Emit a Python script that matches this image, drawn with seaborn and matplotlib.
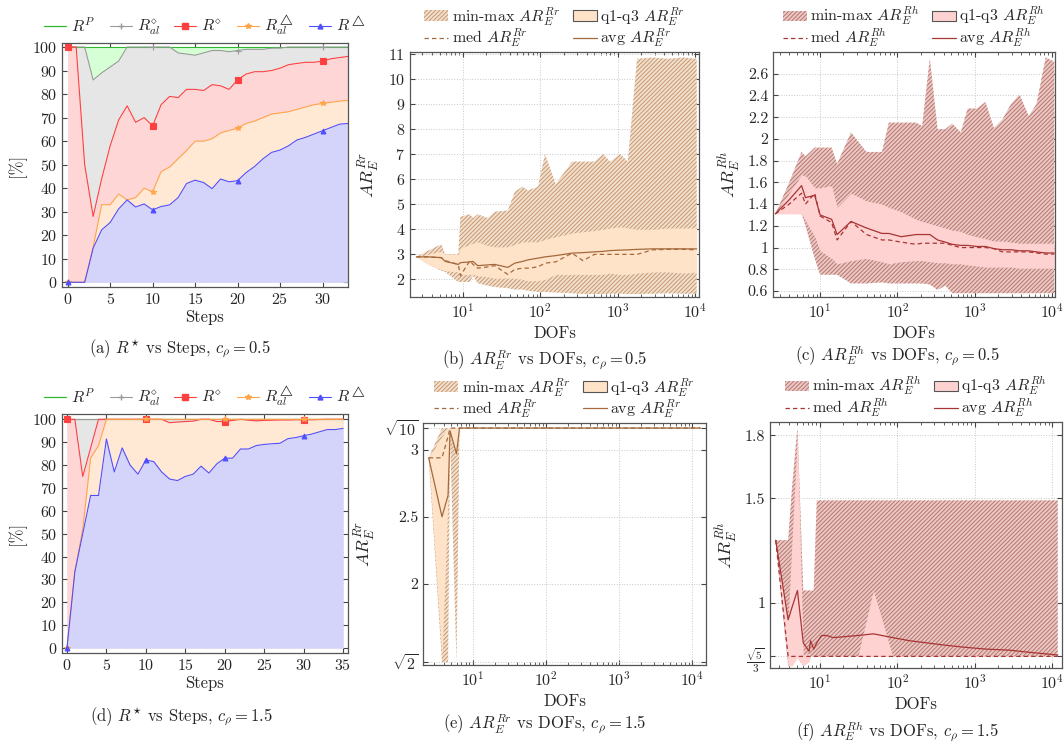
import numpy as np
import pandas as pd
import seaborn as sns
import matplotlib.pyplot as plt
from matplotlib.lines import Line2D
from matplotlib.patches import Patch

sns.set_style('ticks')
plt.rcParams['font.family'] = ['serif']
plt.rcParams['font.serif'] = ['cmr10', 'DejaVu Serif']
plt.rcParams['mathtext.fontset'] = 'cm'
plt.rcParams['axes.formatter.use_mathtext'] = True
plt.rcParams['axes.unicode_minus'] = False
plt.rcParams['hatch.linewidth'] = 0.7

# %% data: R* shares per step, c_rho = 0.5
steps_a = list(range(34))
rtri_a = [0, 0, 0, 14.5, 22.3, 25.4, 31.2, 35, 32, 33.3, 30.8, 32.2, 32.9, 36, 42, 43.4, 42.4,
          39.8, 43.9, 42.7, 43.2, 46.6, 49.2, 52.5, 55.2, 56.2, 58, 60.5, 61.6, 63, 64.4, 65.8,
          67.2, 67.5]
rtrial_a = [0, 0, 0, 15, 33, 33, 37.5, 35, 36, 40, 38.5, 47, 49, 52.5, 56, 60, 60, 61, 63.5,
            64.5, 65.5, 67.5, 68.5, 70, 71.5, 72, 72.5, 73.5, 74.5, 75.5, 76, 76.5, 77, 77.3]
rdia_a = [100, 100, 50, 28, 44, 58, 69, 75, 68, 70, 66.5, 75.5, 79, 78.5, 82, 82, 81.5, 84,
          83.5, 82, 86, 88.5, 89.5, 89.5, 90, 91, 92.5, 93, 93.5, 93.5, 94, 95, 95.5, 96]
rdial_a = [100, 100, 100, 86, 89, 91.5, 94, 100, 100, 100, 100, 100, 100, 97.5, 97, 96.5, 97.5,
           98.5, 98.5, 98, 98.5, 99, 99, 99, 99.5, 99.5, 100, 100, 100, 100, 100, 100, 100, 100]
rp_a = [100] * len(steps_a)

# c_rho = 1.5
steps_d = list(range(36))
rtri_d = [0, 33.4, 50, 66.7, 66.7, 91.4, 77, 87.5, 80, 76, 82.2, 81.5, 77, 73.9, 73.2, 75, 76,
          79.5, 76.5, 80.5, 83, 83, 87, 87, 88.5, 89, 89.3, 89.5, 91.5, 92, 92.8, 93.5, 94.5,
          95.5, 95.5, 96]
rtrial_d = [0, 33.4, 52, 83, 88.5] + [100] * 31
rdia_d = [100, 100, 75, 87.5, 100, 100, 100, 100, 100, 100, 100, 100, 100, 98.5, 98.8, 99, 99.2,
          100, 100, 99, 99, 99.5, 100, 99.6, 99.3, 99.5, 99.6, 99.7, 99.7, 99.8, 99.8, 99.8,
          99.9, 100, 100, 100]
rdial_d = [100] * len(steps_d)
rp_d = [100] * len(steps_d)

# %% data: AR_E^Rr, c_rho = 0.5
dofs_b = [2.5, 3.55, 5.25, 5.9, 8.7, 9.3, 12.3, 13.5, 15.5, 20.9, 25.7, 38, 46.8, 58.9, 69.2,
          93.3, 115, 158, 257, 355, 501, 646, 794, 1072, 1349, 1778, 2818, 4467, 7079, 10471]
max_b = [2.9, 3.15, 3.4, 3.0, 3.0, 4.5, 4.6, 4.45, 4.6, 4.45, 4.7, 4.75, 5.5, 5.7, 5.55, 5.7,
         7.0, 5.8, 6.7, 6.7, 6.7, 7.0, 6.7, 7.0, 6.7, 10.8, 10.85, 10.8, 10.85, 10.8]
q3_b = [2.9, 3.0, 3.13, 3.0, 3.0, 3.25, 3.4, 3.45, 3.5, 3.35, 3.3, 3.3, 3.4, 3.5, 3.5, 3.5,
        3.6, 3.7, 3.85, 3.9, 3.95, 4.0, 4.05, 4.1, 4.05, 4.0, 4.0, 4.05, 4.05, 4.05]
q1_b = [2.9, 2.6, 2.4, 2.35, 2.3, 2.2, 2.2, 2.2, 2.15, 2.1, 2.05, 2.05, 2.05, 2.0, 1.95, 1.95,
        2.0, 2.2, 2.2, 2.2, 2.2, 2.2, 2.25, 2.2, 2.2, 2.25, 2.3, 2.3, 2.25, 2.3]
min_b = [2.9, 2.6, 2.35, 2.3, 1.9, 1.9, 1.9, 2.15, 1.85, 1.75, 1.7, 1.65, 1.6, 1.6, 1.55, 1.5,
         1.5, 1.48, 1.45, 1.42, 1.42, 1.42, 1.43, 1.43, 1.42, 1.42, 1.43, 1.45, 1.43, 1.43]
avg_b = [2.9, 2.9, 2.87, 2.72, 2.6, 2.67, 2.7, 2.72, 2.55, 2.58, 2.6, 2.48, 2.65, 2.72, 2.78,
         2.85, 2.9, 2.95, 3.05, 3.07, 3.1, 3.12, 3.15, 3.17, 3.18, 3.2, 3.22, 3.22, 3.22, 3.22]
med_b = [2.9, 2.9, 2.87, 2.75, 2.6, 2.15, 2.75, 2.6, 2.45, 2.5, 2.55, 2.2, 2.4, 2.45, 2.45,
         2.5, 2.65, 2.7, 3.05, 2.75, 3.0, 3.0, 3.0, 3.0, 3.0, 3.0, 3.18, 3.2, 3.2, 3.18]

# %% data: AR_E^Rh, c_rho = 0.5
dofs_c = [2.63, 3.98, 5.75, 6.46, 8.51, 10, 14.1, 16.6, 25.1, 39.8, 63.1, 77.6, 112, 174, 209,
          263, 331, 417, 513, 661, 813, 1072, 1380, 1778, 2291, 2951, 3802, 5012, 6310, 8318,
          10715]
max_c = [1.31, 1.6, 1.88, 1.84, 1.92, 1.92, 1.92, 1.77, 2.06, 1.88, 1.88, 2.15, 2.15, 2.15,
         2.12, 2.74, 2.09, 2.09, 2.14, 2.06, 2.28, 2.28, 2.34, 2.1, 2.18, 2.32, 2.41, 2.21, 2.32,
         2.75, 2.71]
q3_c = [1.31, 1.5, 1.67, 1.66, 1.55, 1.55, 1.57, 1.37, 1.5, 1.43, 1.4, 1.37, 1.33, 1.26, 1.24,
        1.22, 1.2, 1.18, 1.16, 1.15, 1.12, 1.1, 1.08, 1.06, 1.06, 1.05, 1.04, 1.04, 1.04, 1.04,
        1.04]
q1_c = [1.31, 1.31, 1.31, 1.25, 1.1, 0.97, 0.9, 0.85, 0.88, 0.9, 0.87, 0.85, 0.87, 0.88, 0.88,
        0.87, 0.86, 0.86, 0.85, 0.85, 0.84, 0.83, 0.82, 0.82, 0.82, 0.82, 0.81, 0.81, 0.81, 0.81,
        0.81]
min_c = [1.31, 1.31, 1.31, 1.2, 0.9, 0.75, 0.75, 0.75, 0.67, 0.67, 0.68, 0.67, 0.67, 0.67, 0.67,
         0.66, 0.61, 0.65, 0.58, 0.58, 0.58, 0.58, 0.58, 0.58, 0.58, 0.58, 0.58, 0.58, 0.58, 0.58,
         0.58]
avg_c = [1.31, 1.44, 1.57, 1.46, 1.48, 1.3, 1.26, 1.12, 1.24, 1.18, 1.13, 1.13, 1.1, 1.12, 1.12,
         1.12, 1.07, 1.05, 1.03, 1.02, 1.02, 1.01, 1.01, 0.99, 0.98, 0.98, 0.97, 0.97, 0.96, 0.95,
         0.95]
med_c = [1.31, 1.4, 1.5, 1.4, 1.5, 1.29, 1.23, 1.07, 1.24, 1.12, 1.07, 1.07, 1.05, 1.03, 1.04,
         1.04, 1.04, 1.04, 1.02, 1.0, 1.0, 1.0, 1.0, 0.99, 0.96, 0.96, 0.96, 0.96, 0.95, 0.94,
         0.94]

# %% data: AR_E^Rr, c_rho = 1.5
SQ10 = np.sqrt(10)
SQ2 = np.sqrt(2)
dofs_e = [2.5, 3.8, 4.6, 4.9, 6.0, 6.6, 30, 300, 3000, 13000]
max_e = [2.94] + [SQ10] * 9
q3_e = [2.94, 3.1] + [SQ10] * 8
q1_e = [2.94, 1.45, 2.66, 3.1, 2.95] + [SQ10] * 5
min_e = [2.94, SQ2, SQ2, 3.1, SQ2] + [SQ10] * 5
avg_e = [2.94, 2.5, 2.66, 3.14, 2.97] + [SQ10] * 5
med_e = [2.94, 2.94, 3.1] + [SQ10] * 7

# %% data: AR_E^Rh, c_rho = 1.5
SQ5_3 = np.sqrt(5) / 3
dofs_f = [2.69, 3.89, 4.37, 5.13, 6.10, 7.24, 7.59, 8.32, 9.12, 10.5, 12.3, 14.8, 30.9, 49.0,
          87.1, 145, 389, 692, 1413, 2818, 5012, 11749]
max_f = [1.30, 1.30, 1.55, 1.84, 1.06, 1.06, 1.06, 1.06] + [1.49] * 14
q3_f = [1.30, 0.92, 1.3, 1.80, 0.75, 0.76] + [SQ5_3] * 7 + [1.06] + [SQ5_3] * 8
q1_f = [1.30, 0.70, 0.70, 0.74, 0.70, 0.72] + [SQ5_3] * 16
min_f = [1.30, 0.70, 0.70, 0.74, 0.70, 0.72] + [SQ5_3] * 16
avg_f = [1.30, 0.92, 0.98, 1.06, 0.81, 0.77, 0.82, 0.78, 0.81, 0.845, 0.845, 0.835, 0.845,
         0.853, 0.835, 0.82, 0.80, 0.79, 0.78, 0.775, 0.765, 0.752]
med_f = [1.30] + [SQ5_3] * 21

# %% colours
GREEN, GREEN_F = '#2fb82f', '#d6ffd6'
GREY, GREY_F = '#9a9a9a', '#e6e6e6'
RED, RED_F = '#ff4040', '#ffd6d6'
ORANGE, ORANGE_F = '#ffa54a', '#ffe8d4'
BLUE, BLUE_F = '#4f4fff', '#d4d4fa'

RR_LINE, RR_HATCH, RR_BG, RR_PALE = '#a3693d', '#c8976e', '#f2e0cf', '#ffe3c8'
RH_LINE, RH_HATCH, RH_BG, RH_PALE = '#a83434', '#b87670', '#ebc8c4', '#ffd2d2'
HATCH = '////////'

TICK = 11.5
LAB = 12
LEG = 11.5


def style_axes(ax):
    ax.tick_params(which='both', direction='in', top=True, right=True, labelsize=TICK,
                   color='#444444')
    ax.tick_params(which='major', length=3.5)
    ax.tick_params(which='minor', length=2)
    for s in ax.spines.values():
        s.set_color('#555555')
        s.set_linewidth(0.9)
    ax.grid(True, which='major', ls=':', color='#c8c8c8', lw=0.7)
    ax.set_axisbelow(True)


def steps_panel(ax, steps, rp, rdial, rdia, rtrial, rtri, xlim, ylim, xticks):
    ax.fill_between(steps, 0, rtri, color=BLUE_F, lw=0)
    ax.fill_between(steps, rtri, rtrial, color=ORANGE_F, lw=0)
    ax.fill_between(steps, rtrial, rdia, color=RED_F, lw=0)
    ax.fill_between(steps, rdia, rdial, color=GREY_F, lw=0)
    ax.fill_between(steps, rdial, rp, color=GREEN_F, lw=0)
    df = pd.DataFrame({'step': steps, 'rp': rp, 'rdial': rdial, 'rdia': rdia,
                       'rtrial': rtrial, 'rtri': rtri})
    series = [('rp', GREEN, None, 0), ('rdial', GREY, '+', 4.5), ('rdia', RED, 's', 4),
              ('rtrial', ORANGE, '*', 4), ('rtri', BLUE, '^', 3.5)]
    for col, c, m, ms in series:
        sns.lineplot(x='step', y=col, data=df, ax=ax, color=c, marker=m, markevery=10,
                     markersize=ms, markeredgewidth=0.8, markeredgecolor=c, markerfacecolor=c,
                     lw=0.8, errorbar=None, legend=False)
    ax.set_xlim(xlim)
    ax.set_ylim(ylim)
    ax.set_xticks(xticks)
    ax.set_yticks(range(0, 101, 10))
    ax.set_xlabel('Steps', fontsize=LAB, labelpad=2)
    ax.set_ylabel('[%]', fontsize=LAB)
    style_axes(ax)
    handles = [Line2D([], [], color=GREEN, lw=0.9),
               Line2D([], [], color=GREY, lw=0.8, marker='+', ms=4.5),
               Line2D([], [], color=RED, lw=0.8, marker='s', ms=4),
               Line2D([], [], color=ORANGE, lw=0.8, marker='*', ms=4),
               Line2D([], [], color=BLUE, lw=0.8, marker='^', ms=3.5)]
    labels = ['$R^{P}$', r'$R^{\diamond}_{al}$', r'$R^{\diamond}$', r'$R^{\triangle}_{al}$',
              r'$R^{\triangle}$']
    ax.legend(handles, labels, loc='lower center', bbox_to_anchor=(0.5, 0.99), ncol=5,
              frameon=False, fontsize=LEG, handlelength=1.4, handletextpad=0.3,
              columnspacing=0.9, borderaxespad=0.1)


def dof_panel(ax, dofs, vmin, q1, med, avg, q3, vmax, line_c, hatch_c, bg_c, pale_c, tag):
    ax.fill_between(dofs, vmin, vmax, facecolor=bg_c, edgecolor=hatch_c, hatch=HATCH,
                    lw=0, zorder=1)
    ax.fill_between(dofs, q1, q3, color=pale_c, lw=0, zorder=2)
    df = pd.DataFrame({'dofs': dofs, 'med': med, 'avg': avg})
    sns.lineplot(x='dofs', y='med', data=df, ax=ax, color=line_c, lw=0.9, ls=(0, (3.5, 2.5)),
                 errorbar=None, legend=False, zorder=3)
    sns.lineplot(x='dofs', y='avg', data=df, ax=ax, color=line_c, lw=0.9, errorbar=None,
                 legend=False, zorder=3)
    ax.set_xscale('log')
    ax.set_xlabel('DOFs', fontsize=LAB, labelpad=4)
    ax.set_ylabel(f'$AR_E^{{{tag}}}$', fontsize=LAB + 1)
    style_axes(ax)
    handles = [Patch(facecolor=bg_c, edgecolor=hatch_c, hatch=HATCH, lw=0),
               Line2D([], [], color=line_c, lw=0.9, ls=(0, (3.5, 2.5))),
               Patch(facecolor=pale_c, edgecolor='#555555', lw=0.8),
               Line2D([], [], color=line_c, lw=0.9)]
    labels = [f'min-max $AR_E^{{{tag}}}$', f'med $AR_E^{{{tag}}}$',
              f'q1-q3 $AR_E^{{{tag}}}$', f'avg $AR_E^{{{tag}}}$']
    ax.legend(handles, labels, loc='lower center', bbox_to_anchor=(0.5, 0.995), ncol=2,
              frameon=False, fontsize=LEG, handlelength=1.5, handleheight=0.6,
              handletextpad=0.2, columnspacing=0.8, borderaxespad=0.05, labelspacing=-0.05,
              borderpad=0.2)


W, H = 1064, 745


def rect(l, t, r, b):
    return [l / W, 1 - b / H, (r - l) / W, (b - t) / H]


fig = plt.figure(figsize=(W / 100, H / 100), dpi=100)
ax_a = fig.add_axes(rect(62, 43, 348, 287))
ax_b = fig.add_axes(rect(410, 52, 699, 297))
ax_c = fig.add_axes(rect(773, 52, 1055, 297))
ax_d = fig.add_axes(rect(62, 414, 348, 653))
ax_e = fig.add_axes(rect(423, 423, 706, 665))
ax_f = fig.add_axes(rect(770, 422, 1062, 668))

steps_panel(ax_a, steps_a, rp_a, rdial_a, rdia_a, rtrial_a, rtri_a, (-0.67, 33), (-2, 101.7),
            range(0, 31, 5))
steps_panel(ax_d, steps_d, rp_d, rdial_d, rdia_d, rtrial_d, rtri_d, (-0.63, 35.63),
            (-2.15, 102.3), range(0, 36, 5))

dof_panel(ax_b, dofs_b, min_b, q1_b, med_b, avg_b, q3_b, max_b, RR_LINE, RR_HATCH, RR_BG,
          RR_PALE, 'Rr')
ax_b.set_xlim(10 ** 0.316, 10 ** 4.05)
ax_b.set_ylim(1.3, 11.07)
ax_b.set_yticks(range(2, 12))

dof_panel(ax_c, dofs_c, min_c, q1_c, med_c, avg_c, q3_c, max_c, RH_LINE, RH_HATCH, RH_BG,
          RH_PALE, 'Rh')
ax_c.set_xlim(10 ** 0.39, 10 ** 4.04)
ax_c.set_ylim(0.545, 2.8)
cticks = [0.6, 0.8, 1.0, 1.2, 1.4, 1.6, 1.8, 2.0, 2.2, 2.4, 2.6]
ax_c.set_yticks(cticks)
ax_c.set_yticklabels([f'{v:g}' for v in cticks])

dof_panel(ax_e, dofs_e, min_e, q1_e, med_e, avg_e, q3_e, max_e, RR_LINE, RR_HATCH, RR_BG,
          RR_PALE, 'Rr')
ax_e.set_xlim(10 ** 0.32, 10 ** 4.19)
ax_e.set_ylim(1.394, 3.2)
ax_e.set_yticks([SQ2, 2, 2.5, 3, SQ10])
ax_e.set_yticklabels([r'$\sqrt{2}$', '2', '2.5', '3', r'$\sqrt{10}$'])

dof_panel(ax_f, dofs_f, min_f, q1_f, med_f, avg_f, q3_f, max_f, RH_LINE, RH_HATCH, RH_BG,
          RH_PALE, 'Rh')
ax_f.set_xlim(10 ** 0.356, 10 ** 4.125)
ax_f.set_ylim(0.69, 1.864)
ax_f.set_yticks([SQ5_3, 1, 1.5, 1.8])
ax_f.set_yticklabels([r'$\frac{\sqrt{5}}{3}$', '1', '1.5', '1.8'])

captions = [(180, 349, r'(a) $R^{\star}$ vs Steps, $c_\rho = 0.5$'),
            (545, 360, r'(b) $AR_E^{Rr}$ vs DOFs, $c_\rho = 0.5$'),
            (897, 355, r'(c) $AR_E^{Rh}$ vs DOFs, $c_\rho = 0.5$'),
            (181, 717, r'(d) $R^{\star}$ vs Steps, $c_\rho = 1.5$'),
            (545, 724, r'(e) $AR_E^{Rr}$ vs DOFs, $c_\rho = 1.5$'),
            (897, 731, r'(f) $AR_E^{Rh}$ vs DOFs, $c_\rho = 1.5$')]
for x, y, s in captions:
    fig.text(x / W, 1 - y / H, s, ha='center', va='center', fontsize=LAB)

fig.savefig('out.png', dpi=100)
